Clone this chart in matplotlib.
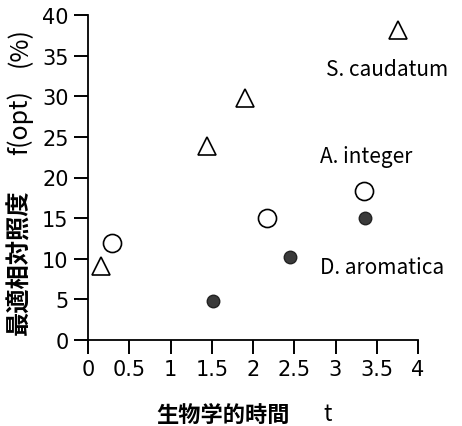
import matplotlib
matplotlib.use('Agg')
import matplotlib.pyplot as plt

plt.rcParams['font.family'] = ['Noto Sans CJK JP', 'DejaVu Sans']

# S. caudatum (open triangles)
sc_t = [0.16, 1.44, 1.90, 3.76]
sc_f = [9.1, 23.9, 29.8, 38.2]
# A. integer (open circles)
ai_t = [0.29, 2.17, 3.34]
ai_f = [11.9, 15.0, 18.4]
# D. aromatica (filled circles)
da_t = [1.52, 2.45, 3.36]
da_f = [4.8, 10.2, 15.0]

species = ['S. caudatum', 'A. integer', 'D. aromatica']
label_pos = [(2.89, 33.3), (2.81, 22.7), (2.81, 9.0)]

xticks = [0, 0.5, 1, 1.5, 2, 2.5, 3, 3.5, 4]
xticklabels = ['0', '0.5', '1', '1.5', '2', '2.5', '3', '3.5', '4']
yticks = [0, 5, 10, 15, 20, 25, 30, 35, 40]

W, H = 462, 427
fig = plt.figure(figsize=(W / 100, H / 100), dpi=100)
ax = fig.add_axes([88 / W, 1 - 341 / H, 330 / W, 325 / H])

ax.plot(sc_t, sc_f, '^', ms=13, mfc='white', mec='black', mew=1.2, ls='none', clip_on=False)
ax.plot(ai_t, ai_f, 'o', ms=13, mfc='white', mec='black', mew=1.2, ls='none', clip_on=False)
ax.plot(da_t, da_f, 'o', ms=9, mfc='#3a3a3a', mec='#222222', mew=1, ls='none', clip_on=False)

for name, (x, y) in zip(species, label_pos):
    ax.text(x, y, name, fontsize=15, va='center', ha='left')

ax.set_xlim(0, 4)
ax.set_ylim(0, 40)
ax.set_xticks(xticks)
ax.set_xticklabels(xticklabels)
ax.set_yticks(yticks)
ax.tick_params(direction='out', length=10, width=1.4, labelsize=15, pad=4,
               labelfontfamily='DejaVu Sans')
for s in ['top', 'right']:
    ax.spines[s].set_visible(False)
for s in ['left', 'bottom']:
    ax.spines[s].set_linewidth(1.3)

# x label: CJK part bold, variable normal
fig.text(223.5 / W, 1 - 415 / H, '生物学的時間', fontsize=16, fontweight='bold',
         ha='center', va='center')
fig.text(327.5 / W, 1 - 415 / H, 't', fontsize=16, ha='center', va='center')

# y label pieces, rotated
fig.text(20 / W, 1 - 262 / H, '最適相対照度', fontsize=17.5, fontweight='bold',
         rotation=90, ha='center', va='center')
fig.text(20 / W, 1 - 123 / H, 'f(opt)', fontsize=18, rotation=90, ha='center', va='center')
fig.text(20 / W, 1 - 47.5 / H, '(%)', fontsize=18, rotation=90, ha='center', va='center')

fig.savefig('out.png', dpi=100)
